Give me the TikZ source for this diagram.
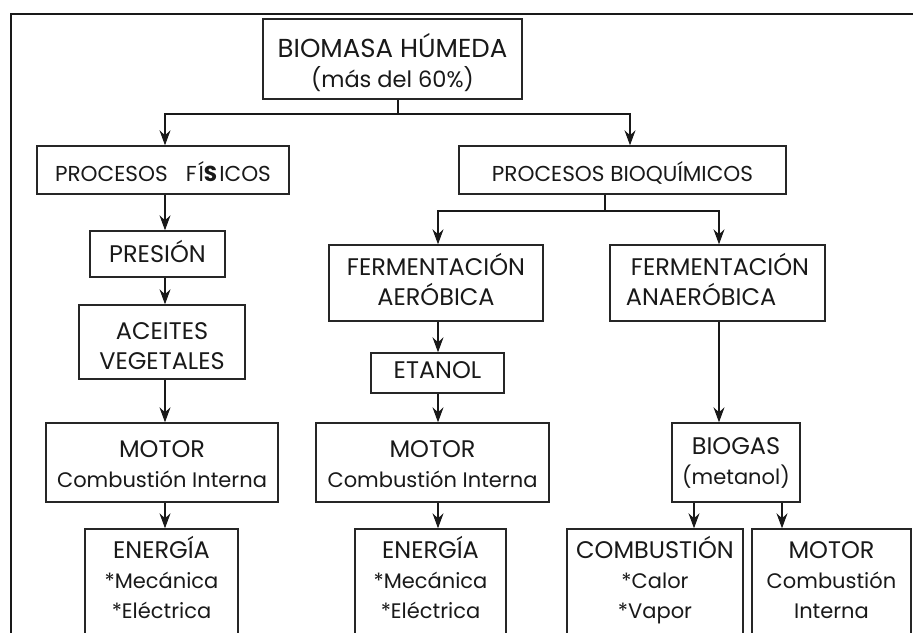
\documentclass[tikz,border=0pt]{standalone}
\usepackage{fontspec}
\setmainfont{Poppins}
\usetikzlibrary{arrows.meta,calc}
\newcommand{\ucs}{\fontsize{24}{30}\selectfont}
\newcommand{\lcs}{\fontsize{21}{30}\selectfont}
\newcommand{\pcs}{\fontsize{21.6}{30}\selectfont}
\tikzset{
  bx/.style={draw=black!85, line width=1.4pt, inner sep=0pt, align=center,
    font=\fontsize{24}{30}\selectfont, text=black!90},
  conn/.style={line width=1.1pt, draw=black!90},
  arr/.style={conn, -{Stealth[length=15pt,width=11pt,inset=5pt]}},
}
% name, x1, y1, x2, y2, top offset, bottom offset, text
\newcommand{\bxat}[8]{%
  \node[bx, minimum width={#4-#2}] (#1) at ({(#2+#4)/2},{(#3+#5)/2})
    {\rule{0pt}{#6pt}#8\rule[-#7pt]{0pt}{0pt}};}
\begin{document}
\begin{tikzpicture}[x=1pt,y=-1pt]
\useasboundingbox (0,0) rectangle (913,632);
\clip (0,0) rectangle (913,632);
% frame
\draw[line width=2.6pt, draw=black!90] (11,650) -- (11,14) -- (930,14);
% boxes
\bxat{bio}{263}{19}{522}{99}{38}{12}{{\fontsize{26}{30}\selectfont BIOMASA HÚMEDA}\\{\fontsize{22.5}{30}\selectfont (más del 60\%)}}
\bxat{fis}{37}{146}{289}{194}{35}{13}{\pcs PROCESOS\hspace{18pt}F\hspace{2pt}Í{\bfseries S}\hspace{2pt}ICOS}
\bxat{bioq}{459}{146}{786}{194}{35}{13}{\pcs PROCESOS BIOQUÍMICOS}
\bxat{pres}{90}{231}{225}{277}{31}{15}{PRESIÓN}
\bxat{aer}{329}{245}{543}{321}{30}{16}{FERMENTACIÓN\\AERÓBICA}
\node[bx, minimum width=215pt, align=left] (anaer) at (717.5,283)
  {\rule{0pt}{30pt}\hspace*{5pt}FERMENTACIÓN\\ANAERÓBICA\rule[-16pt]{0pt}{0pt}};
\bxat{acei}{79}{305}{245}{379}{34}{10}{ACEITES\\VEGETALES}
\bxat{etan}{371}{353}{504}{393}{25}{15}{ETANOL}
\bxat{motA}{46}{423}{278}{502}{34}{15}{MOTOR\\{\lcs Combustión Interna}}
\bxat{motB}{316}{423}{549}{502}{34}{15}{MOTOR\\{\lcs Combustión Interna}}
\bxat{biog}{672}{423}{800}{502}{31}{18}{BIOGAS\\{\lcs (metanol)}}
\bxat{enA}{85}{529}{238}{645}{29}{27}{ENERGÍA\\{\lcs *Mecánica}\\{\lcs *Eléctrica}}
\bxat{enB}{355}{529}{506}{645}{29}{27}{ENERGÍA\\{\lcs *Mecánica}\\{\lcs *Eléctrica}}
\bxat{comb}{567}{529}{743}{645}{29}{27}{COMBUSTIÓN\\{\lcs *Calor}\\{\lcs *Vapor}}
\bxat{motC}{752}{529}{911}{645}{29}{27}{MOTOR\\{\lcs Combustión}\\{\lcs Interna}}
% junctions and columns
\coordinate (j1) at (398,114);
\coordinate (j1L) at (165,114);
\coordinate (j1R) at (630,114);
\coordinate (j2) at (605,211);
\coordinate (j2L) at (438,211);
\coordinate (j2R) at (719,211);
\coordinate (cA) at (165,0);
\coordinate (cB) at (438,0);
\coordinate (cC) at (719,0);
\coordinate (cD) at (694,0);
\coordinate (cE) at (782,0);
% connectors
\draw[conn] (j1 |- bio.south) -- (j1);
\draw[arr] (j1) -- (j1L) -- (j1L |- fis.north);
\draw[arr] (j1) -- (j1R) -- (j1R |- bioq.north);
\draw[arr] (cA |- fis.south) -- (cA |- pres.north);
\draw[arr] (cA |- pres.south) -- (cA |- acei.north);
\draw[arr] (cA |- acei.south) -- (cA |- motA.north);
\draw[arr] (cA |- motA.south) -- (cA |- enA.north);
\draw[conn] (j2 |- bioq.south) -- (j2);
\draw[arr] (j2) -- (j2L) -- (j2L |- aer.north);
\draw[arr] (j2) -- (j2R) -- (j2R |- anaer.north);
\draw[arr] (cB |- aer.south) -- (cB |- etan.north);
\draw[arr] (cB |- etan.south) -- (cB |- motB.north);
\draw[arr] (cB |- motB.south) -- (cB |- enB.north);
\draw[arr] (cC |- anaer.south) -- (cC |- biog.north);
\draw[arr] (cD |- biog.south) -- (cD |- comb.north);
\draw[arr] (cE |- biog.south) -- (cE |- motC.north);
\end{tikzpicture}
\end{document}
